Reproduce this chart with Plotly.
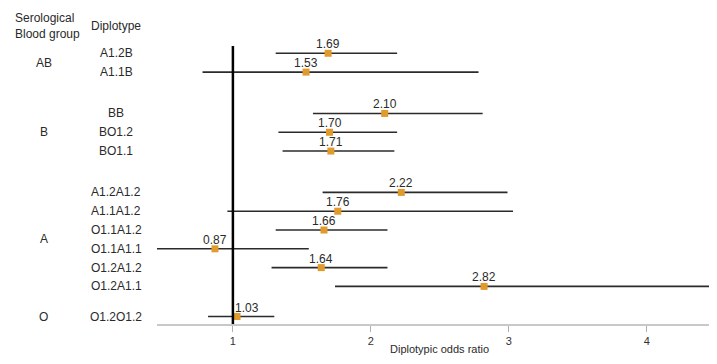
import plotly.graph_objects as go

# ---- data ----
groups = ["AB", "B", "A", "O"]
diplotypes = [
    ["A1.2B", "A1.1B"],
    ["BB", "BO1.2", "BO1.1"],
    ["A1.2A1.2", "A1.1A1.2", "O1.1A1.2", "O1.1A1.1", "O1.2A1.2", "O1.2A1.1"],
    ["O1.2O1.2"],
]
odds_ratio = [1.69, 1.53, 2.10, 1.70, 1.71, 2.22, 1.76, 1.66, 0.87, 1.64, 2.82, 1.03]
ci_low = [1.31, 0.78, 1.58, 1.33, 1.36, 1.65, 0.96, 1.31, 0.40, 1.28, 1.74, 0.82]
ci_high = [2.19, 2.78, 2.81, 2.19, 2.17, 2.99, 3.03, 2.12, 1.55, 2.12, 4.60, 1.30]
x_ticks = [1, 2, 3, 4]

# ---- layout helpers (row spacing / page geometry, not data) ----
group_gap = [0.0, 1.2, 1.2, 0.6]
OFF = 8                      # default body margin of the html page
W, H = 717 - 2 * OFF, 364 - 2 * OFF
PLOT_L, PLOT_R, PLOT_T, PLOT_B = 157, 709, 40, 324   # page pixels
ML, MR = PLOT_L - OFF, (W + OFF) - PLOT_R
MT, MB = PLOT_T - OFF, (H + OFF) - PLOT_B
PW, PH = PLOT_R - PLOT_L, PLOT_B - PLOT_T
ROW0_PX, ROW_STEP = 53.3, 18.8


def px_x(px):
    return (px - PLOT_L) / PW


def px_y(py):
    return (PLOT_B - py) / PH


y_pos, labels, group_centers = [], [], []
cur = 0.0
for gi, rows in enumerate(diplotypes):
    cur += group_gap[gi]
    start = cur
    for r in rows:
        y_pos.append(cur)
        labels.append(r)
        cur += 1
    group_centers.append((start + cur - 1) / 2)

y_top = (PLOT_T - ROW0_PX) / ROW_STEP
y_bot = (PLOT_B - ROW0_PX) / ROW_STEP

FONT = "Liberation Sans, Arial, sans-serif"
TXT = "#2a2a2a"

fig = go.Figure()
fig.add_trace(go.Scatter(
    x=odds_ratio,
    y=y_pos,
    mode="markers",
    marker=dict(symbol="square", size=7, color="#E19B2D"),
    error_x=dict(
        type="data", symmetric=False,
        array=[h - o for h, o in zip(ci_high, odds_ratio)],
        arrayminus=[o - l for o, l in zip(odds_ratio, ci_low)],
        width=0, thickness=1.6, color="#2b2b2b",
    ),
    cliponaxis=False,
    showlegend=False,
))

# reference line at OR = 1
fig.add_shape(type="line", xref="x", yref="paper", x0=1, x1=1,
              y0=0, y1=px_y(46), line=dict(color="black", width=2.5))

ann = []
# value labels above markers
for v, yv in zip(odds_ratio, y_pos):
    xs = 10 if abs(v - 1) < 0.05 else 0
    ann.append(dict(text=f"{v:.2f}", xref="x", yref="y", x=v, y=yv,
                    xanchor="center", yanchor="middle", xshift=xs, yshift=9,
                    showarrow=False, font=dict(size=12, color=TXT, family=FONT)))

ann.append(dict(text="Serological<br>Blood group", xref="paper", yref="paper",
                x=px_x(13), y=px_y(26), xanchor="left", yanchor="middle",
                align="left", showarrow=False, font=dict(size=12, color=TXT, family=FONT)))
ann.append(dict(text="Diplotype", xref="paper", yref="paper",
                x=px_x(116), y=px_y(26), xanchor="center", yanchor="middle",
                showarrow=False, font=dict(size=12, color=TXT, family=FONT)))
for lab, yv in zip(labels, y_pos):
    ann.append(dict(text=lab, xref="paper", yref="y", x=px_x(116), y=yv,
                    xanchor="center", yanchor="middle", showarrow=False,
                    font=dict(size=12, color=TXT, family=FONT)))
for g, yv in zip(groups, group_centers):
    ann.append(dict(text=g, xref="paper", yref="y", x=px_x(43.5), y=yv,
                    xanchor="center", yanchor="middle", showarrow=False,
                    font=dict(size=12, color=TXT, family=FONT)))
ann.append(dict(text="Diplotypic odds ratio", xref="paper", yref="paper",
                x=px_x(439), y=px_y(349), xanchor="center", yanchor="middle",
                showarrow=False, font=dict(size=11, color=TXT, family=FONT)))

fig.update_layout(
    width=W, height=H,
    margin=dict(l=ML, r=MR, t=MT, b=MB, pad=0),
    paper_bgcolor="white", plot_bgcolor="white",
    annotations=ann,
    font=dict(family=FONT, size=11, color=TXT),
    xaxis=dict(range=[0.45, 4.45], tickvals=x_ticks, ticktext=[str(t) for t in x_ticks],
               showgrid=False, zeroline=False, showline=True, linecolor="#c8c8c8",
               linewidth=2, ticks="outside", ticklen=6, tickcolor="#b0b0b0",
               tickwidth=1, tickfont=dict(size=11, color="#333333", family=FONT)),
    yaxis=dict(range=[y_bot, y_top], visible=False, showgrid=False, zeroline=False),
)

fig.write_html("out.html")
